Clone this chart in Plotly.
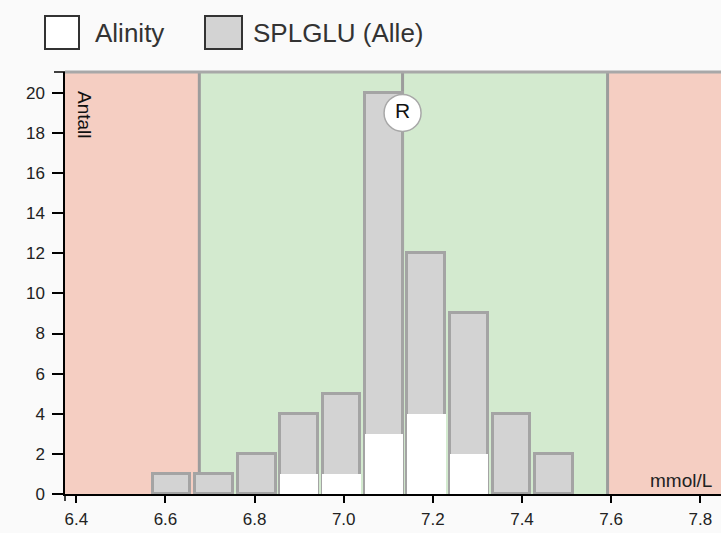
import plotly.graph_objects as go

# histogram bins (mmol/L)
bin_edges = [6.566, 6.661, 6.757, 6.852, 6.947, 7.043, 7.138, 7.233, 7.329, 7.424, 7.519]
count_all = [1, 1, 2, 4, 5, 20, 12, 9, 4, 2]
count_alinity = [0, 0, 0, 1, 1, 3, 4, 2, 0, 0]

lim_low = 6.676
target = 7.132
lim_high = 7.592
r_mark_y = 19.0

x_ticks = [6.4, 6.6, 6.8, 7.0, 7.2, 7.4, 7.6, 7.8]
y_ticks = [0, 2, 4, 6, 8, 10, 12, 14, 16, 18, 20]

W, H = 721, 533
L, R, T, B = 65, 0, 72, 39
X_RANGE = [6.3746, 7.8465]
Y_RANGE = [0, 21.04]

PINK = "#f5cec2"
GREEN = "#d3eacf"
BAR_FILL = "#d3d3d3"
BAR_LINE = "#a4a4a4"
REF_LINE = "#9c9c9c"
FONT = "Liberation Sans, Arial, sans-serif"

centers = [(a + b) / 2 for a, b in zip(bin_edges[:-1], bin_edges[1:])]
bin_w = bin_edges[1] - bin_edges[0]
px_unit = (W - L - R) / (X_RANGE[1] - X_RANGE[0])
bar_w = bin_w - 4.5 / px_unit
white_w = bar_w + 1.0 / px_unit


def px(x):
    """pixel x -> paper x"""
    return (x - L) / (W - L - R)


def py(y):
    """pixel y -> paper y"""
    return (H - B - y) / (H - T - B)


fig = go.Figure()
fig.add_trace(
    go.Bar(
        x=centers,
        y=count_all,
        width=bar_w,
        marker=dict(color=BAR_FILL, line=dict(color=BAR_LINE, width=3)),
        name="SPLGLU (Alle)",
        hoverinfo="skip",
    )
)
fig.add_trace(
    go.Bar(
        x=centers,
        y=count_alinity,
        width=white_w,
        marker=dict(color="white", line=dict(width=0)),
        name="Alinity",
        hoverinfo="skip",
    )
)
# target marker
fig.add_trace(
    go.Scatter(
        x=[target],
        y=[r_mark_y],
        mode="markers+text",
        text=["R"],
        textposition="middle center",
        textfont=dict(family=FONT, size=21, color="#111"),
        marker=dict(size=37, color="white", line=dict(color="#a8a8a8", width=1.5)),
        hoverinfo="skip",
        cliponaxis=False,
    )
)

shapes = [
    dict(type="rect", xref="x", yref="y", x0=X_RANGE[0], x1=lim_low,
         y0=0, y1=Y_RANGE[1], fillcolor=PINK, line_width=0, layer="below"),
    dict(type="rect", xref="x", yref="y", x0=lim_low, x1=lim_high,
         y0=0, y1=Y_RANGE[1], fillcolor=GREEN, line_width=0, layer="below"),
    dict(type="rect", xref="x", yref="y", x0=lim_high, x1=X_RANGE[1],
         y0=0, y1=Y_RANGE[1], fillcolor=PINK, line_width=0, layer="below"),
]
for xv in (lim_low, target, lim_high):
    shapes.append(dict(type="line", xref="x", yref="y", x0=xv, x1=xv,
                       y0=0, y1=Y_RANGE[1], line=dict(color=REF_LINE, width=3),
                       layer="below"))
# top border
shapes.append(dict(type="line", xref="paper", yref="paper", x0=0, x1=1, y0=1, y1=1,
                   line=dict(color="#a8a8a8", width=3)))
# outer ticks at axis ends
shapes.append(dict(type="line", xref="paper", yref="paper", x0=px(L - 11), x1=0,
                   y0=1, y1=1, line=dict(color="black", width=1.5)))
shapes.append(dict(type="line", xref="paper", yref="paper", x0=0, x1=0,
                   y0=0, y1=py(H - B + 7), line=dict(color="black", width=1.5)))

# legend boxes
shapes.append(dict(type="rect", xref="paper", yref="paper", x0=px(45), x1=px(79),
                   y0=py(49), y1=py(16), fillcolor="white",
                   line=dict(color="#333", width=2)))
shapes.append(dict(type="rect", xref="paper", yref="paper", x0=px(205), x1=px(242),
                   y0=py(49), y1=py(16), fillcolor=BAR_FILL,
                   line=dict(color="#333", width=2)))

annotations = [
    dict(text="Alinity", xref="paper", yref="paper", x=px(93), y=py(33),
         xanchor="left", yanchor="middle", showarrow=False,
         font=dict(family=FONT, size=26, color="#333")),
    dict(text="SPLGLU (Alle)", xref="paper", yref="paper", x=px(251), y=py(33),
         xanchor="left", yanchor="middle", showarrow=False,
         font=dict(family=FONT, size=26, color="#333")),
    dict(text="Antall", xref="paper", yref="paper", x=px(85), y=py(115),
         xanchor="center", yanchor="middle", textangle=90, showarrow=False,
         font=dict(family=FONT, size=19, color="#111")),
    dict(text="mmol/L", xref="paper", yref="paper", x=px(714), y=py(480),
         xanchor="right", yanchor="middle", showarrow=False,
         font=dict(family=FONT, size=19, color="#222")),
]

fig.update_layout(
    width=W,
    height=H,
    margin=dict(l=L, r=R, t=T, b=B, pad=0),
    paper_bgcolor="#fafafa",
    plot_bgcolor="rgba(0,0,0,0)",
    barmode="overlay",
    bargap=0,
    showlegend=False,
    shapes=shapes,
    annotations=annotations,
    font=dict(family=FONT, color="#222"),
    xaxis=dict(
        range=X_RANGE,
        tickvals=x_ticks,
        ticktext=[f"{v:.1f}" for v in x_ticks],
        ticks="outside",
        ticklen=7,
        tickwidth=1.5,
        tickcolor="black",
        showline=True,
        linecolor="black",
        linewidth=1.5,
        showgrid=False,
        zeroline=False,
        tickfont=dict(size=17),
        ticklabelstandoff=2,
    ),
    yaxis=dict(
        range=Y_RANGE,
        tickvals=y_ticks,
        ticks="outside",
        ticklen=11,
        tickwidth=1.5,
        tickcolor="black",
        showline=True,
        linecolor="black",
        linewidth=1.5,
        showgrid=False,
        zeroline=False,
        tickfont=dict(size=17),
        ticklabelstandoff=4,
    ),
)

fig.write_html(
    "out.html",
    config={"displayModeBar": False},
    post_script="document.body.style.margin='0';document.body.style.overflow='hidden';",
)
